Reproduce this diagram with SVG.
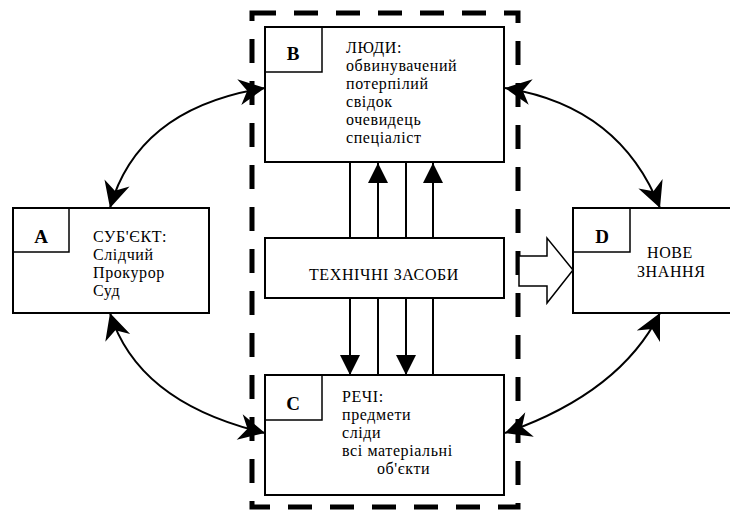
<svg xmlns="http://www.w3.org/2000/svg" width="730" height="510" viewBox="0 0 730 510">
<style>
.box{fill:#fff;stroke:#000;stroke-width:2}
.lab{fill:none;stroke:#000;stroke-width:1.5}
.t{font-family:"Liberation Serif","Times New Roman",serif;font-size:16px;letter-spacing:0.6px;fill:#000}
.b{font-family:"Liberation Serif","Times New Roman",serif;font-size:19px;font-weight:bold;fill:#000;text-anchor:middle}
.ln{stroke:#000;stroke-width:2;fill:none}
.cur{stroke:#000;stroke-width:2;fill:none;marker-start:url(#st);marker-end:url(#st)}
</style>
<defs>
<marker id="st" viewBox="-1 -14 30 28" refX="26" refY="0" markerWidth="30" markerHeight="28" markerUnits="userSpaceOnUse" orient="auto-start-reverse">
<path d="M0,-13 L26,0 L0,13 L8,0 z" fill="#000"/>
</marker>
<marker id="tri" viewBox="0 -10 20 20" refX="20" refY="0" markerWidth="20" markerHeight="20" markerUnits="userSpaceOnUse" orient="auto">
<path d="M0,-10 L20,0 L0,10 z" fill="#000"/>
</marker>
</defs>
<rect x="252" y="13" width="266" height="494" fill="none" stroke="#000" stroke-width="5" stroke-dasharray="24 18"/>
<g id="connectors">
<line class="ln" x1="350" y1="238" x2="350" y2="162"/>
<line class="ln" x1="378" y1="238" x2="378" y2="163" marker-end="url(#tri)"/>
<line class="ln" x1="406" y1="238" x2="406" y2="162"/>
<line class="ln" x1="433" y1="238" x2="433" y2="163" marker-end="url(#tri)"/>
<line class="ln" x1="350" y1="298" x2="350" y2="375" marker-end="url(#tri)"/>
<line class="ln" x1="378" y1="298" x2="378" y2="375"/>
<line class="ln" x1="406" y1="298" x2="406" y2="375" marker-end="url(#tri)"/>
<line class="ln" x1="433" y1="298" x2="433" y2="375"/>
<path class="cur" d="M110,208 Q138,108 265,88"/>
<path class="cur" d="M110,313 Q138,403 265,433"/>
<path class="cur" d="M505,88 Q620,106 660,208"/>
<path class="cur" d="M660,313 Q620,393 505,433"/>
<polygon points="519,256 547,256 547,238 573,270 547,303 547,286 519,286" fill="#fff" stroke="#000" stroke-width="1.5"/>
</g>
<g id="nodeB">
<rect class="box" x="265" y="27" width="239" height="135"/>
<rect class="lab" x="265" y="27" width="57" height="45"/>
<text class="b" x="293" y="60">B</text>
<text class="t" x="346" y="53">ЛЮДИ:</text>
<text class="t" x="346" y="71">обвинувачений</text>
<text class="t" x="346" y="89">потерпілий</text>
<text class="t" x="346" y="107">свідок</text>
<text class="t" x="346" y="125">очевидець</text>
<text class="t" x="346" y="143">спеціаліст</text>
</g>
<g id="nodeTech">
<rect class="box" x="265" y="238" width="239" height="60"/>
<text class="t" x="384" y="280" text-anchor="middle">ТЕХНІЧНІ ЗАСОБИ</text>
</g>
<g id="nodeC">
<rect class="box" x="265" y="375" width="239" height="120"/>
<rect class="lab" x="265" y="375" width="57" height="45"/>
<text class="b" x="293" y="410">C</text>
<text class="t" x="342" y="402">РЕЧІ:</text>
<text class="t" x="342" y="420">предмети</text>
<text class="t" x="342" y="438">сліди</text>
<text class="t" x="342" y="456">всі матеріальні</text>
<text class="t" x="377" y="474">об'єкти</text>
</g>
<g id="nodeA">
<rect class="box" x="13" y="208" width="196" height="105"/>
<rect class="lab" x="13" y="208" width="56" height="44"/>
<text class="b" x="41" y="243">A</text>
<text class="t" x="93" y="242">СУБ'ЄКТ:</text>
<text class="t" x="93" y="260">Слідчий</text>
<text class="t" x="93" y="278">Прокурор</text>
<text class="t" x="93" y="296">Суд</text>
</g>
<g id="nodeD">
<rect class="box" x="573" y="208" width="165" height="105"/>
<rect class="lab" x="573" y="208" width="57" height="44"/>
<text class="b" x="602" y="243">D</text>
<text class="t" x="647" y="258">НОВЕ</text>
<text class="t" x="637" y="277">ЗНАННЯ</text>
</g>
</svg>
